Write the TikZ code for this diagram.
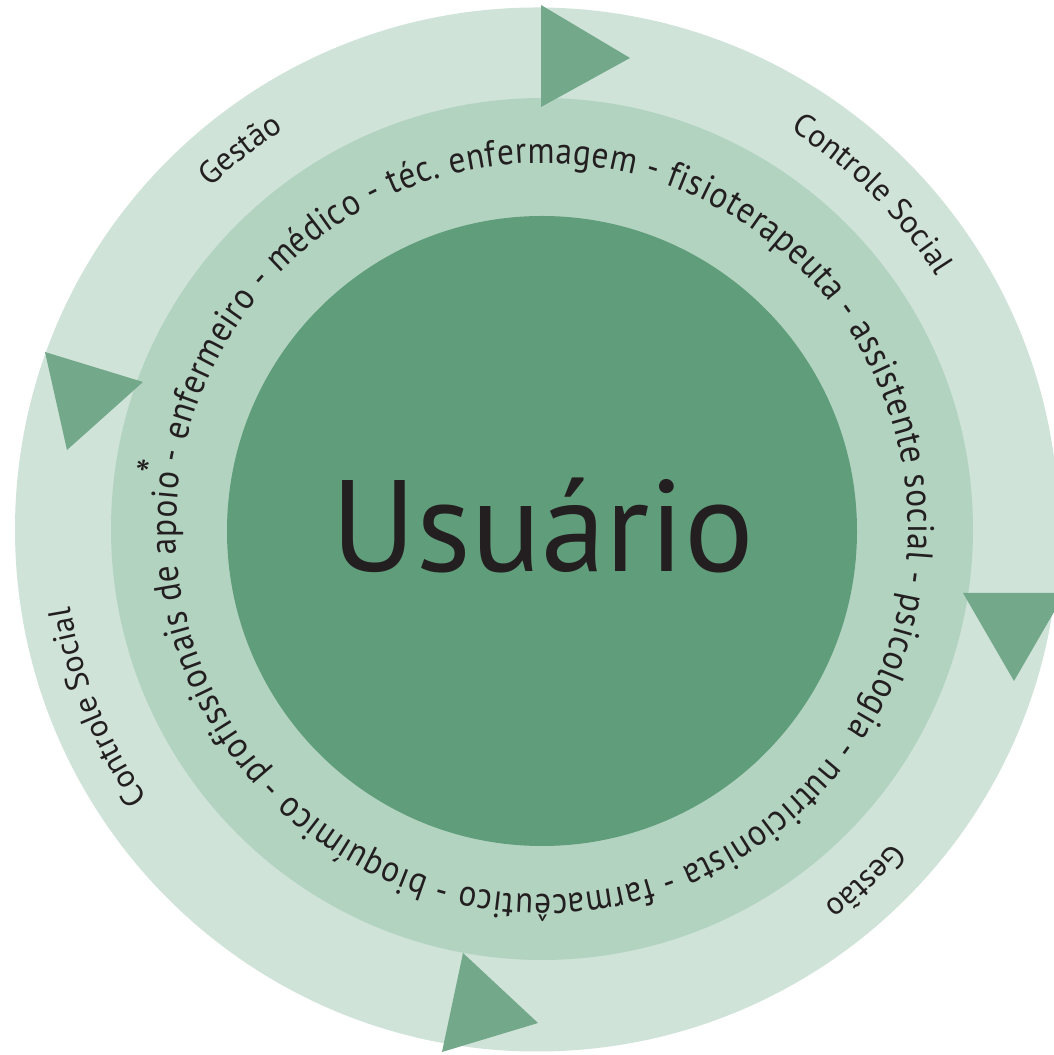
\documentclass[tikz,border=0pt]{standalone}
\usepackage{fontspec}
\setmainfont{PT Sans}
\newfontfamily\ringfam[FakeStretch=0.9]{PT Sans}
\usetikzlibrary{decorations.text}
\definecolor{ringout}{RGB}{207,227,216}
\definecolor{ringmid}{RGB}{179,211,193}
\definecolor{core}{RGB}{96,157,123}
\definecolor{tri}{RGB}{115,168,139}
\definecolor{ink}{RGB}{35,31,32}
\newcommand\lblfont{\fontsize{32}{38}\selectfont}
\newcommand\ringfont{\ringfam\fontsize{37}{44}\selectfont}
\newcommand\usrfont{\fontsize{130}{150}\selectfont}
\begin{document}
\begin{tikzpicture}[x=1pt,y=1pt,
  arrowtri/.style={fill=tri, draw=none},
  outerlabel/.style={decorate, decoration={text along path, text align=center, text color=ink, text={|\lblfont|#1}}},
  ]
\useasboundingbox (0,0) rectangle (1053,1055);
\coordinate (co) at (537,525.5);
\coordinate (cm) at (542,526);
\coordinate (ci) at (542,524);
% rings
\fill[ringout] (co) circle[radius=522];
\fill[ringmid] (cm) circle[radius=431];
\fill[core] (ci) circle[radius=315];
% triangles
\fill[arrowtri] (541,1050) -- (541,948) -- (630,997) -- cycle;
\fill[arrowtri] (45,703) -- (143,673) -- (67,605) -- cycle;
\fill[arrowtri] (963,462) -- (1065,462) -- (1014,374) -- cycle;
\fill[arrowtri] (463,102) -- (442,3) -- (538,32) -- cycle;
% outer labels
\path[outerlabel=Gestão] (co) ++(148:473) arc[start angle=148, end angle=108, radius=473];
\path[outerlabel=Controle Social] (co) ++(72:473) arc[start angle=72, end angle=18, radius=473];
\path[outerlabel=Controle Social] (co) ++(229:473) arc[start angle=229, end angle=175, radius=473];
\path[outerlabel=Gestão] (co) ++(-27:473) arc[start angle=-27, end angle=-67, radius=473];
% professions ring
\path[decorate, decoration={text along path, text align=fit to path, text color=ink,
  text={|\ringfont|profissionais de apoio{\raisebox{12pt}{\makebox[0.22em][r]{\fontsize{44}{50}\selectfont *}}}- enfermeiro - médico - téc. enfermagem - fisioterapeuta - assistente social - psicologia - nutricionista - farmacêutico - bioquímico - }}]
  (cm) ++(222:366) arc[start angle=222, end angle=-137, radius=366];
% centre
\node[text=ink, font=\usrfont, anchor=base, inner sep=0pt] (usuario) at (543,483) {Usuário};
\end{tikzpicture}
\end{document}
